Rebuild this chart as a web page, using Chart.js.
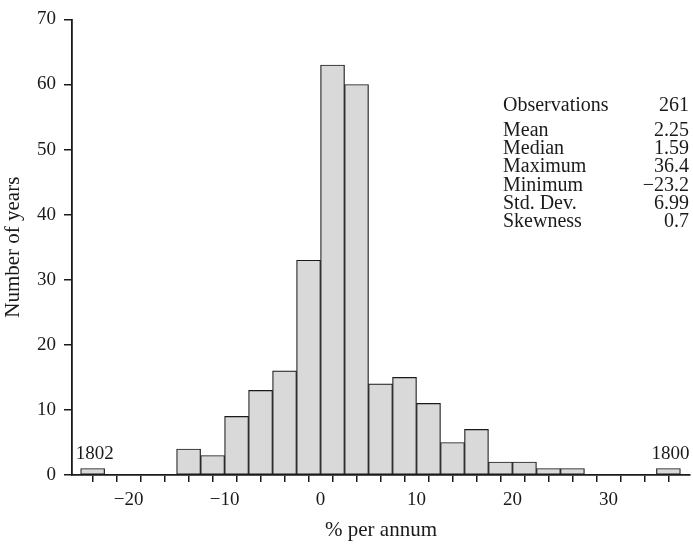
<!DOCTYPE html>
<html>
<head>
<meta charset="utf-8">
<script src="https://cdn.jsdelivr.net/npm/chart.js@4.4.1/dist/chart.umd.min.js"></script>
<style>
  html, body { margin: 0; padding: 0; background: #fff; }
  #wrap { width: 693px; height: 547px; position: relative; }
</style>
</head>
<body>
<div id="wrap"><canvas id="grafico" width="693" height="547"></canvas></div>
<script>
// histogram bins (left edge, width 2.5) and number of years in each
const binStart = [-25, -15, -12.5, -10, -7.5, -5, -2.5, 0, 2.5, 5, 7.5, 10, 12.5, 15, 17.5, 20, 22.5, 25, 35];
const counts   = [1, 4, 3, 9, 13, 16, 33, 63, 60, 14, 15, 11, 5, 7, 2, 2, 1, 1, 1];
const binWidth = 2.5;

// axis ticks
const xTicks  = [-25, -22.5, -20, -17.5, -15, -12.5, -10, -7.5, -5, -2.5, 0, 2.5, 5, 7.5, 10, 12.5, 15, 17.5, 20, 22.5, 25, 27.5, 30, 32.5, 35, 37.5];
const xLabels = [-20, -10, 0, 10, 20, 30];
const yTicks  = [0, 10, 20, 30, 40, 50, 60, 70];

// outlier years
const outlierYears = ['1802', '1800'];
const outlierBins  = [-25, 35];

// summary statistics
const statNames  = ['Observations', 'Mean', 'Median', 'Maximum', 'Minimum', 'Std. Dev.', 'Skewness'];
const statValues = ['261', '2.25', '1.59', '36.4', '\u221223.2', '6.99', '0.7'];

const FONT = "'Liberation Serif', 'DejaVu Serif', serif";
const INK = '#1a1a1a';

const ctx = document.getElementById('grafico').getContext('2d');

const puntos = binStart.map((b, i) => ({ x: b + binWidth / 2, y: counts[i] }));

// texts drawn on top: outlier years and the stats block
const textos = {
    id: 'textos',
    afterDraw(chart) {
        const c = chart.ctx;
        const xs = chart.scales.x, ys = chart.scales.y;
        c.save();
        c.fillStyle = INK;
        c.font = '19px ' + FONT;
        c.textBaseline = 'alphabetic';

        outlierYears.forEach((yr, i) => {
            const k = binStart.indexOf(outlierBins[i]);
            c.textAlign = 'center';
            c.fillText(yr, xs.getPixelForValue(outlierBins[i] + binWidth / 2) + 2, ys.getPixelForValue(counts[k]) - 9);
        });

        c.font = '20px ' + FONT;
        const left = 503, right = 689;
        let y = 111;
        statNames.forEach((n, i) => {
            c.textAlign = 'left';
            c.fillText(n, left, y);
            c.textAlign = 'right';
            c.fillText(statValues[i], right, y);
            y += (i === 0) ? 25 : 18.2;
        });
        c.restore();
    }
};

new Chart(ctx, {
    type: 'bar',
    data: {
        datasets: [{
            data: puntos,
            backgroundColor: '#d9d9d9',
            borderColor: INK,
            borderWidth: 1.2,
            borderSkipped: false,
            barPercentage: 1,
            categoryPercentage: 1
        }]
    },
    options: {
        responsive: false,
        animation: false,
        layout: { padding: { top: 14, right: 3, left: 0, bottom: 0 } },
        plugins: {
            legend: { display: false },
            tooltip: { enabled: false }
        },
        scales: {
            x: {
                type: 'linear',
                offset: false,
                min: -25.9,
                max: 38.5,
                afterBuildTicks: (s) => { s.ticks = xTicks.map(v => ({ value: v })); },
                afterFit: (s) => { s.height = 72; },
                grid: { drawOnChartArea: false, drawTicks: true, tickLength: 7, color: INK, lineWidth: 1.5 },
                border: { color: INK, width: 1.8 },
                ticks: {
                    autoSkip: false,
                    maxRotation: 0,
                    padding: 7,
                    color: INK,
                    font: { family: FONT, size: 19 },
                    callback: (v) => xLabels.includes(v) ? (v < 0 ? '\u2212' + Math.abs(v) : String(v)) : ''
                },
                title: {
                    display: true,
                    text: '% per annum',
                    color: INK,
                    font: { family: FONT, size: 21 },
                    padding: { top: 0, bottom: 4 }
                }
            },
            y: {
                min: 0,
                max: 70,
                afterBuildTicks: (s) => { s.ticks = yTicks.map(v => ({ value: v })); },
                afterFit: (s) => { s.width = 72; },
                grid: { drawOnChartArea: false, drawTicks: true, tickLength: 8, color: INK, lineWidth: 1.5 },
                border: { color: INK, width: 1.8 },
                ticks: {
                    padding: 8,
                    color: INK,
                    font: { family: FONT, size: 19 }
                },
                title: {
                    display: true,
                    text: 'Number of years',
                    color: INK,
                    font: { family: FONT, size: 21 },
                    padding: { top: 1, bottom: 0 }
                }
            }
        }
    },
    plugins: [textos]
});
</script>
</body>
</html>
